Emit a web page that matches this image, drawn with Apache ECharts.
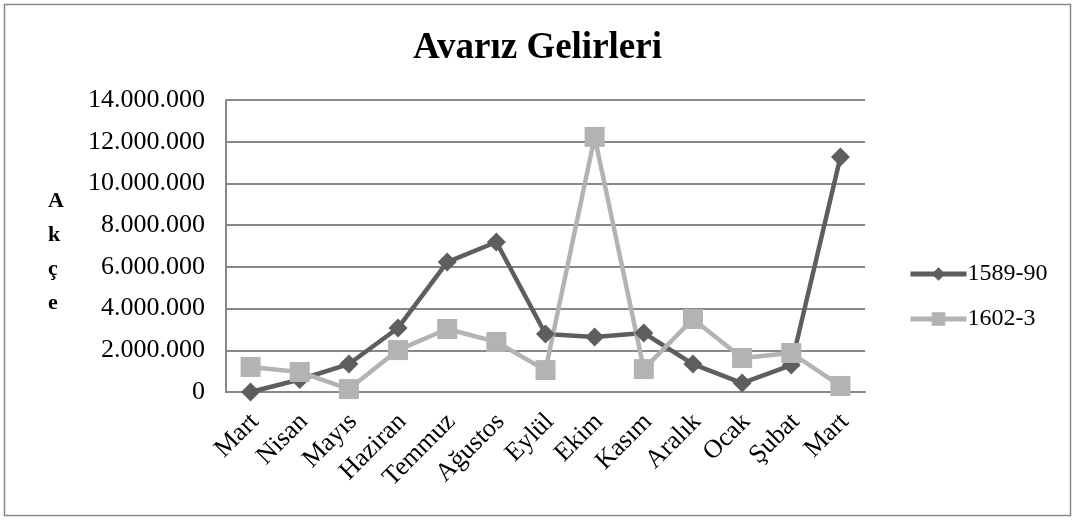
<!DOCTYPE html>
<html>
<head>
<meta charset="utf-8">
<script src="https://cdn.jsdelivr.net/npm/echarts@6/dist/echarts.min.js"></script>
<style>
  html, body { margin: 0; padding: 0; background: #fff; }
  #chart { width: 1075px; height: 521px; }
</style>
</head>
<body>
<div id="chart"></div>
<script>
// aylar
const months = ['Mart', 'Nisan', 'Mayıs', 'Haziran', 'Temmuz', 'Ağustos', 'Eylül', 'Ekim', 'Kasım', 'Aralık', 'Ocak', 'Şubat', 'Mart'];
// 1589-90 gelirleri
const gelir1589 = [0, 600000, 1340000, 3070000, 6230000, 7190000, 2780000, 2640000, 2830000, 1340000, 430000, 1290000, 11270000];
// 1602-3 gelirleri
const gelir1602 = [1200000, 960000, 140000, 2010000, 3020000, 2400000, 1050000, 12230000, 1100000, 3500000, 1630000, 1870000, 290000];

const serif = '"Liberation Serif", "DejaVu Serif", serif';

const myChart = echarts.init(document.getElementById('chart'));

// binlik ayırıcı nokta
function fmt(v) {
  return String(v).replace(/\B(?=(\d{3})+(?!\d))/g, '.');
}

const option = {
  animation: false,
  title: {
    text: 'Avarız Gelirleri',
    left: 'center',
    top: 25,
    textStyle: { fontFamily: serif, fontSize: 37, fontWeight: 'bold', color: '#000' }
  },
  legend: {
    orient: 'vertical',
    left: 903,
    top: 257,
    itemWidth: 56,
    itemHeight: 17,
    itemGap: 21,
    lineStyle: { width: 5 },
    textStyle: { fontFamily: serif, fontSize: 24, color: '#000', padding: [0, 0, 0, -4] },
    data: ['1589-90', '1602-3']
  },
  graphic: [
    {
      type: 'rect',
      shape: { x: 4.5, y: 4.5, width: 1066, height: 511 },
      style: { fill: 'none', stroke: '#8a8a8a', lineWidth: 1.5 }
    },
    {
      type: 'text',
      left: 48,
      top: 184,
      style: {
        text: 'A\nk\nç\ne',
        fontFamily: serif,
        fontSize: 22,
        fontWeight: 'bold',
        lineHeight: 34,
        align: 'center',
        fill: '#000'
      }
    }
  ],
  grid: { left: 226, right: 210, top: 100, bottom: 129 },
  xAxis: {
    type: 'category',
    data: months,
    boundaryGap: true,
    axisLine: { lineStyle: { color: '#888', width: 2 } },
    axisTick: { show: false },
    axisLabel: {
      rotate: 45,
      interval: 0,
      margin: 30,
      fontFamily: serif,
      fontSize: 26,
      color: '#000',
      padding: [0, -6, 0, 0]
    }
  },
  yAxis: {
    type: 'value',
    min: 0,
    max: 14000000,
    interval: 2000000,
    axisLine: { show: true, lineStyle: { color: '#888', width: 2 } },
    axisTick: { show: false },
    splitLine: { lineStyle: { color: '#888', width: 2 } },
    axisLabel: {
      margin: 21,
      fontFamily: serif,
      fontSize: 26,
      color: '#000',
      formatter: fmt
    }
  },
  series: [
    {
      name: '1589-90',
      type: 'line',
      data: gelir1589,
      symbol: 'diamond',
      symbolSize: 19,
      lineStyle: { color: '#5e5e5e', width: 4.5 },
      itemStyle: { color: '#5e5e5e' }
    },
    {
      name: '1602-3',
      type: 'line',
      data: gelir1602,
      symbol: 'rect',
      symbolSize: 20,
      lineStyle: { color: '#b3b3b3', width: 4.5 },
      itemStyle: { color: '#b3b3b3' }
    }
  ]
};

myChart.setOption(option);
</script>
</body>
</html>
